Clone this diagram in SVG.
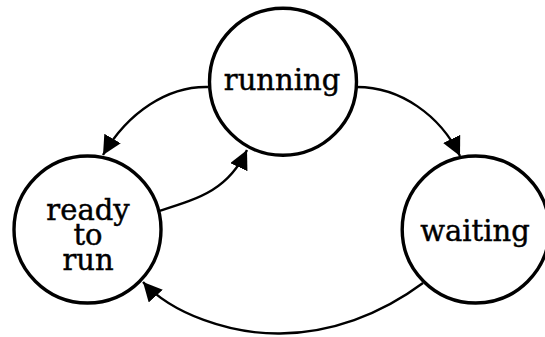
<svg xmlns="http://www.w3.org/2000/svg" width="545" height="337" viewBox="0 0 545 337">
<style>
.state{fill:#fff;stroke:#000;stroke-width:3.4}
.lbl{font-family:"DejaVu Serif",serif;font-size:29px;fill:#000;stroke:#000;stroke-width:0.45;text-anchor:middle}
.edge{fill:none;stroke:#000;stroke-width:2.4;marker-end:url(#ah)}
</style>
<defs>
<marker id="ah" markerUnits="userSpaceOnUse" markerWidth="20" markerHeight="20" refX="19" refY="9.5" orient="auto">
<path d="M0,0 L19,9.5 L0,19 z" fill="#000"/>
</marker>
</defs>
<rect width="545" height="337" fill="#fff"/>
<g id="connectors">
<path class="edge" d="M208,87 C168,86 128,112 103,155"/>
<path class="edge" d="M159,211 C200,198 228,190 247,150"/>
<path class="edge" d="M357,87 C400,87 440,115 460,156"/>
<path class="edge" d="M423,283 C380,315 330,333 280,333.5 C230,334 172,314 143,282"/>
</g>
<g id="running">
<circle class="state" cx="283" cy="81.7" r="73.5"/>
<text class="lbl" x="282" y="89.5">running</text>
</g>
<g id="ready">
<circle class="state" cx="87.5" cy="229.5" r="73.5"/>
<text class="lbl" x="88" y="220">ready<tspan x="88" dy="25">to</tspan><tspan x="88" dy="24.5">run</tspan></text>
</g>
<g id="waiting">
<circle class="state" cx="475.7" cy="229.5" r="73.5"/>
<text class="lbl" x="475" y="240.5">waiting</text>
</g>
</svg>
